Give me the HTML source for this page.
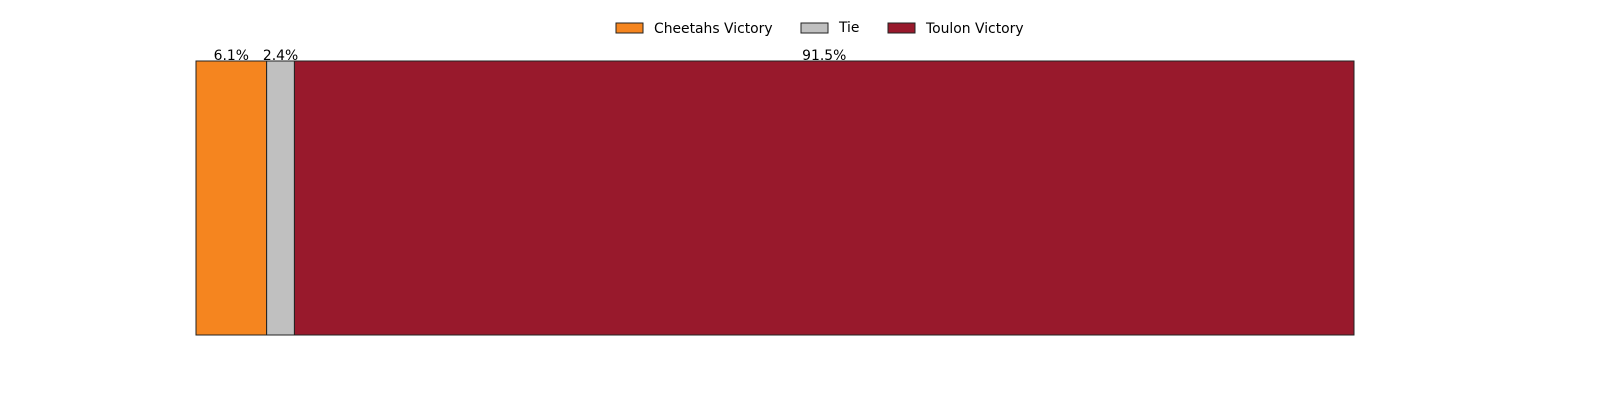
<!DOCTYPE html>
<html><head><meta charset="utf-8"><style>
html,body{margin:0;padding:0;background:#fff;}
svg text{font-family:"DejaVu Sans","Liberation Sans",sans-serif;font-size:13.9px;fill:#000;}
</style></head><body>
<svg id="chart" width="1600" height="400"></svg>
<script>
const categories=["Cheetahs Victory","Tie","Toulon Victory"];
const values=[6.1,2.4,91.5];
const colors=["#F5851F","#C0C0C0","#98192C"];
const svg=document.getElementById('chart');
const NS="http://www.w3.org/2000/svg";
const x0=196,x1=1354,y0=61,y1=335;
const total=values.reduce((a,b)=>a+b,0);
function xs(v){return x0+(x1-x0)*v/total;}
function mk(t,a){const e=document.createElementNS(NS,t);for(const k in a)e.setAttribute(k,a[k]);svg.appendChild(e);return e;}
let cum=0;
values.forEach((v,i)=>{
  const a=xs(cum),b=xs(cum+v);
  const r=mk('rect',{x:a,y:y0,width:b-a,height:y1-y0,fill:colors[i],stroke:'#222','stroke-width':1});
  
  
  const t=mk('text',{x:(a+b)/2,y:y0-1,'text-anchor':'middle'});
  t.textContent=v.toFixed(1)+'%';
  
  
  cum+=v;
});
const legX=[616,801,888];
categories.forEach((c,i)=>{
  const r=mk('rect',{x:legX[i],y:23,width:27,height:10,fill:colors[i],stroke:'#222','stroke-width':1});
  
  
  const t=mk('text',{x:legX[i]+38,y:i===1?32:33});
  t.textContent=c;
  
  
});
</script>
</body></html>
